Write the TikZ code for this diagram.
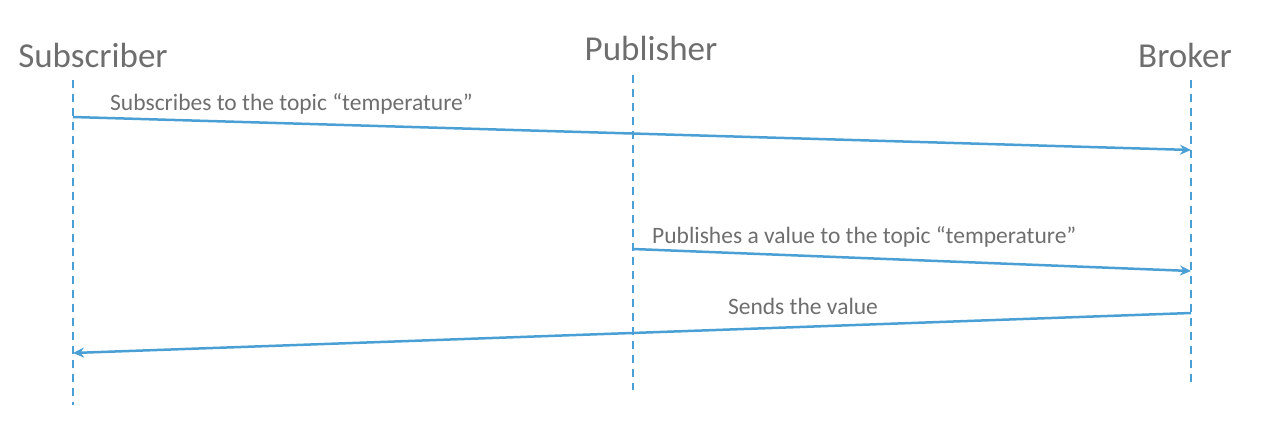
\documentclass[tikz,border=0pt]{standalone}
\usepackage{fontspec}
\setmainfont{Carlito}
\usetikzlibrary{arrows.meta}
\definecolor{ln}{HTML}{4A9FD4}
\definecolor{tx}{HTML}{6E6E6E}
\begin{document}
\begin{tikzpicture}[x=1pt,y=-1pt,
  life/.style={ln,line width=2pt,dash pattern=on 8pt off 6pt},
  msg/.style={ln,line width=2.5pt,-{Stealth[length=11pt,width=10pt]}},
  head/.style={tx,font=\fontsize{35}{38}\selectfont,inner sep=0pt},
  lab/.style={tx,font=\fontsize{23.5}{26}\selectfont,inner sep=0pt}]
\useasboundingbox (0,0) rectangle (1270,439);
\node[head] (s) at (93,55) {Subscriber};
\node[head] (p) at (651,48) {Publisher};
\node[head] (b) at (1185,55) {Broker};
\coordinate (s1) at (73,80); \coordinate (s2) at (73,405);
\coordinate (p1) at (633,75); \coordinate (p2) at (633,390);
\coordinate (b1) at (1191,80); \coordinate (b2) at (1191,383);
\draw[life] (s1) -- (s2);
\draw[life] (p1) -- (p2);
\draw[life] (b1) -- (b2);
\coordinate (a1) at (73,117); \coordinate (a1e) at (1191,150);
\coordinate (a2) at (633,249); \coordinate (a2e) at (1191,271);
\coordinate (a3) at (1191,313); \coordinate (a3e) at (73,353);
\draw[msg] (a1) -- (a1e);
\draw[msg] (a2) -- (a2e);
\draw[msg] (a3) -- (a3e);
\node[lab,anchor=west] (l1) at (110,104) {Subscribes to the topic “temperature”};
\node[lab,anchor=west] (l2) at (652,237) {Publishes a value to the topic “temperature”};
\node[lab] (l3) at (803,306) {Sends the value};
\end{tikzpicture}
\end{document}
